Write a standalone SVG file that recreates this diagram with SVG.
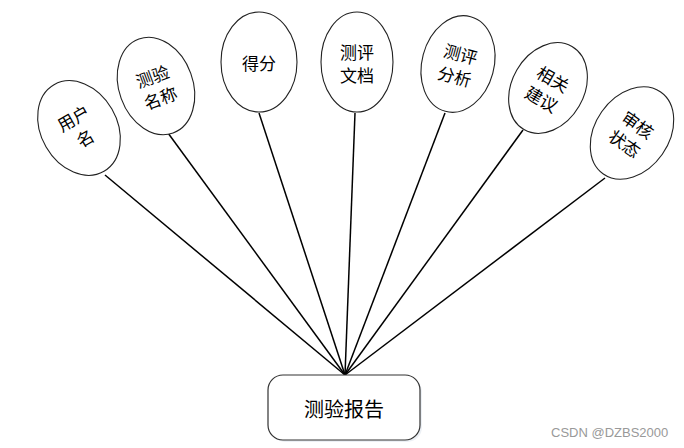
<svg xmlns="http://www.w3.org/2000/svg" width="684" height="448" viewBox="0 0 684 448">
<style>
.attr ellipse{fill:#fff;stroke:#222;stroke-width:1.1}
.attr text,.ent text{font-family:"Noto Sans CJK SC","Liberation Sans",sans-serif;fill:#000;text-anchor:middle;dominant-baseline:central}
.attr text{font-size:17px}
.ent text{font-size:20px}
#edges line{stroke:#000;stroke-width:1.5}
.wm{font-family:"Liberation Sans",sans-serif;font-size:13px;fill:#999}
</style>
<rect width="684" height="448" fill="#fff"/>
<g id="edges">
<line x1="105" y1="175" x2="345" y2="375"/>
<line x1="168" y1="133" x2="345" y2="375"/>
<line x1="259" y1="113" x2="345" y2="375"/>
<line x1="355" y1="113" x2="345" y2="375"/>
<line x1="445" y1="113" x2="345" y2="375"/>
<line x1="523" y1="130" x2="345" y2="375"/>
<line x1="605" y1="178" x2="345" y2="375"/>
</g>
<g id="n_user" class="attr" transform="translate(79,128) rotate(-30)">
<ellipse rx="38" ry="50"/>
<text y="-12">用户</text><text y="11">名</text>
</g>
<g id="n_testname" class="attr" transform="translate(156,86) rotate(-20)">
<ellipse rx="37" ry="50"/>
<text y="-11">测验</text><text y="12">名称</text>
</g>
<g id="n_score" class="attr" transform="translate(259,62)">
<ellipse rx="38" ry="50"/>
<text y="0">得分</text>
</g>
<g id="n_doc" class="attr" transform="translate(357,62)">
<ellipse rx="36" ry="50"/>
<text y="-11">测评</text><text y="12">文档</text>
</g>
<g id="n_analysis" class="attr" transform="translate(458,64) rotate(15)">
<ellipse rx="36" ry="49"/>
<text y="-11">测评</text><text y="12">分析</text>
</g>
<g id="n_advice" class="attr" transform="translate(548,88) rotate(30)">
<ellipse rx="36" ry="48"/>
<text y="-11">相关</text><text y="12">建议</text>
</g>
<g id="n_status" class="attr" transform="translate(632,133) rotate(35)">
<ellipse rx="37" ry="50"/>
<text y="-11">审核</text><text y="12">状态</text>
</g>
<g id="n_report" class="ent">
<rect x="270" y="377" width="152" height="65" rx="15" fill="#dfe6ef" opacity="0.6"/>
<rect x="268" y="375" width="152" height="65" rx="15" fill="#fff" stroke="#333" stroke-width="1.2"/>
<text x="344" y="408">测验报告</text>
</g>
<text class="wm" x="551" y="437">CSDN @DZBS2000</text>
</svg>
